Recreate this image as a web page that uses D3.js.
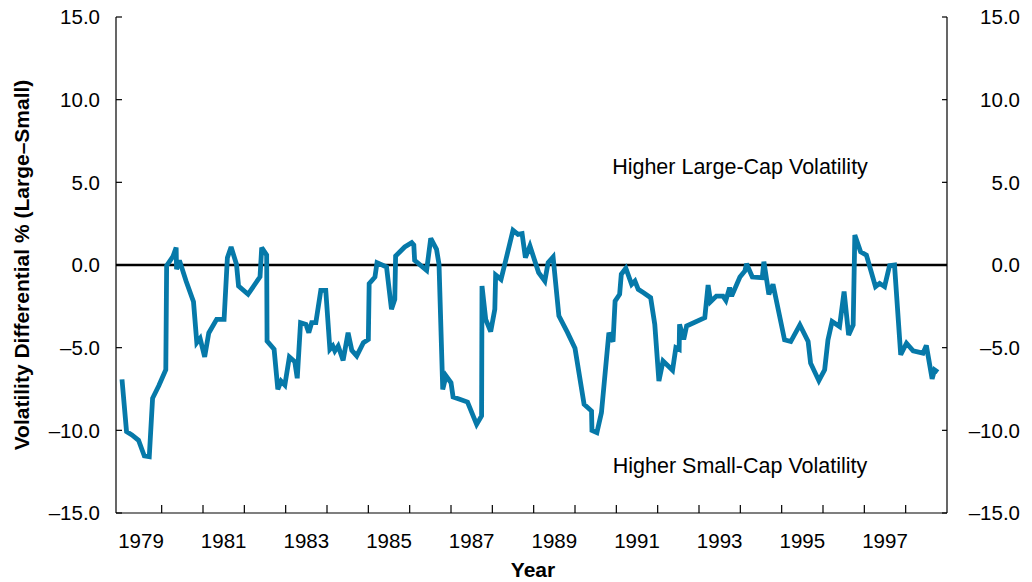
<!DOCTYPE html>
<html>
<head>
<meta charset="utf-8">
<script src="https://cdn.jsdelivr.net/npm/d3@7"></script>
<style>
  html, body { margin: 0; padding: 0; background: #fff; }
  svg { display: block; font-family: "Liberation Sans", Arial, Helvetica, sans-serif; }
</style>
</head>
<body>
<svg id="chart" width="1032" height="582"></svg>
<script>
// Decimal year of each observation
const years = [
  1979.04, 1979.15, 1979.28, 1979.44, 1979.58, 1979.70, 1979.78, 1979.93, 1980.10, 1980.12,
  1980.27, 1980.35, 1980.36, 1980.43, 1980.59, 1980.77, 1980.85, 1980.93, 1981.04, 1981.14,
  1981.33, 1981.51, 1981.59, 1981.68, 1981.81, 1981.86, 1982.09, 1982.38, 1982.42, 1982.54,
  1982.55, 1982.72, 1982.81, 1982.89, 1982.98, 1983.09, 1983.22, 1983.28, 1983.36, 1983.49,
  1983.56, 1983.63, 1983.73, 1983.85, 1983.97, 1984.07, 1984.14, 1984.19, 1984.27, 1984.39,
  1984.51, 1984.60, 1984.72, 1984.88, 1985.00, 1985.02, 1985.16, 1985.21, 1985.44, 1985.56,
  1985.64, 1985.66, 1985.88, 1986.05, 1986.10, 1986.12, 1986.41, 1986.51, 1986.65, 1986.71,
  1986.80, 1986.88, 1987.00, 1987.05, 1987.21, 1987.40, 1987.62, 1987.74, 1987.75, 1987.84,
  1987.96, 1988.06, 1988.08, 1988.21, 1988.32, 1988.50, 1988.62, 1988.72, 1988.80, 1988.91,
  1989.12, 1989.27, 1989.35, 1989.47, 1989.61, 1989.82, 1990.00, 1990.22, 1990.40, 1990.41,
  1990.53, 1990.64, 1990.82, 1990.92, 1990.97, 1991.08, 1991.12, 1991.23, 1991.37, 1991.45,
  1991.53, 1991.65, 1991.83, 1991.93, 1992.03, 1992.13, 1992.36, 1992.44, 1992.52, 1992.53,
  1992.63, 1992.70, 1993.14, 1993.22, 1993.28, 1993.42, 1993.58, 1993.65, 1993.74, 1993.79,
  1993.99, 1994.11, 1994.15, 1994.29, 1994.53, 1994.57, 1994.69, 1994.79, 1995.07, 1995.22,
  1995.44, 1995.64, 1995.70, 1995.90, 1996.04, 1996.12, 1996.22, 1996.40, 1996.51, 1996.62,
  1996.73, 1996.77, 1996.91, 1997.05, 1997.27, 1997.37, 1997.49, 1997.61, 1997.73, 1997.88,
  1998.02, 1998.18, 1998.42, 1998.50, 1998.64, 1998.70, 1998.78
];
// Volatility differential, % (large minus small)
const differential = [
  -6.92, -10.08, -10.28, -10.60, -11.55, -11.60, -8.06, -7.30, -6.33, -0.04,
  0.50, 1.05, -0.26, 0.28, -0.97, -2.22, -4.70, -4.44, -5.56, -4.11,
  -3.29, -3.29, 0.44, 1.09, 0.04, -1.27, -1.77, -0.71, 1.05, 0.60,
  -4.60, -5.10, -7.52, -7.02, -7.26, -5.56, -5.85, -6.85, -3.49, -3.59,
  -4.09, -3.49, -3.49, -1.53, -1.53, -5.10, -4.90, -5.20, -4.90, -5.77,
  -4.09, -5.16, -5.50, -4.70, -4.50, -1.13, -0.73, 0.14, -0.12, -2.68,
  -2.08, 0.54, 1.09, 1.35, 1.21, 0.28, -0.32, 1.61, 0.95, 0.04,
  -7.52, -6.71, -7.12, -7.98, -8.12, -8.29, -9.64, -9.13, -1.27, -3.29,
  -4.03, -2.68, -0.60, -0.87, 0.24, 2.10, 1.85, 1.90, 0.44, 1.15,
  -0.46, -0.97, 0.14, 0.48, -3.08, -4.09, -5.04, -8.43, -8.83, -10.00,
  -10.14, -8.93, -4.09, -4.64, -2.18, -1.77, -0.56, -0.20, -1.17, -0.97,
  -1.47, -1.67, -1.98, -3.59, -7.02, -5.81, -6.37, -5.00, -5.10, -3.59,
  -4.50, -3.69, -3.19, -1.21, -2.22, -1.88, -1.88, -2.14, -1.37, -1.88,
  -0.73, -0.36, 0.08, -0.73, -0.77, 0.20, -1.77, -1.17, -4.53, -4.63,
  -3.62, -4.63, -5.94, -7.00, -6.34, -4.53, -3.42, -3.72, -1.61, -4.23,
  -3.62, 1.81, 0.80, 0.60, -1.31, -1.11, -1.31, -0.04, 0.00, -5.43,
  -4.73, -5.19, -5.33, -4.87, -6.88, -6.34, -6.48
];
const yTicks = [-15, -10, -5, 0, 5, 10, 15];
const xTickYears = d3.range(1980, 1999);          // year boundaries (tick marks)
const xLabelYears = [1979, 1981, 1983, 1985, 1987, 1989, 1991, 1993, 1995, 1997];
const yTitle = "Volatility Differential % (Large\u2013Small)";
const xTitle = "Year";
const noteTop = "Higher Large-Cap Volatility";
const noteBottom = "Higher Small-Cap Volatility";

(function () {
const data = years.map((t, i) => ({ t: t, v: differential[i] }));

const svg = d3.select("#chart");
const pL = 116, pR = 947, pT = 17, pB = 513;

const x = d3.scaleLinear().domain([1978.895, 1999]).range([pL, pR]);
const y = d3.scaleLinear().domain([-15, 15]).range([pB, pT]);

const fmt = v => (v < 0 ? "\u2013" : "") + Math.abs(v).toFixed(1);
const fontSize = 20.5;
const noteSize = 21.5;
const titleSize = 21;

// Left axis
const gL = svg.append("g").attr("transform", `translate(${pL},0)`);
gL.append("line").attr("x1", 0).attr("x2", 0).attr("y1", pT).attr("y2", pB)
  .attr("stroke", "#000").attr("stroke-width", 1.2);
gL.selectAll("line.t").data(yTicks).enter().append("line").attr("class", "t")
  .attr("x1", 0).attr("x2", 6).attr("y1", d => y(d)).attr("y2", d => y(d))
  .attr("stroke", "#000").attr("stroke-width", 1.2);
gL.selectAll("text").data(yTicks).enter().append("text")
  .attr("x", -16).attr("y", d => y(d)).attr("dy", "0.36em")
  .attr("text-anchor", "end").attr("font-size", fontSize).attr("fill", "#000")
  .text(fmt);

// Right axis
const gR = svg.append("g").attr("transform", `translate(${pR},0)`);
gR.append("line").attr("x1", 0).attr("x2", 0).attr("y1", pT).attr("y2", pB)
  .attr("stroke", "#000").attr("stroke-width", 1.2);
gR.selectAll("line.t").data(yTicks).enter().append("line").attr("class", "t")
  .attr("x1", 0).attr("x2", -5).attr("y1", d => y(d)).attr("y2", d => y(d))
  .attr("stroke", "#000").attr("stroke-width", 1.2);
gR.selectAll("text").data(yTicks).enter().append("text")
  .attr("x", 73).attr("y", d => y(d)).attr("dy", "0.36em")
  .attr("text-anchor", "end").attr("font-size", fontSize).attr("fill", "#000")
  .text(fmt);

// Bottom axis
const gB = svg.append("g").attr("transform", `translate(0,${pB})`);
gB.append("line").attr("x1", pL).attr("x2", pR).attr("y1", 0).attr("y2", 0)
  .attr("stroke", "#000").attr("stroke-width", 1.2);
gB.selectAll("line.t").data(xTickYears).enter().append("line").attr("class", "t")
  .attr("x1", d => x(d)).attr("x2", d => x(d)).attr("y1", 0).attr("y2", -8)
  .attr("stroke", "#000").attr("stroke-width", 1.2);
gB.selectAll("text").data(xLabelYears).enter().append("text")
  .attr("x", d => x(d + 0.5)).attr("y", 35)
  .attr("text-anchor", "middle").attr("font-size", fontSize).attr("fill", "#000")
  .text(d => d);

// Zero line
svg.append("line").attr("x1", pL).attr("x2", pR).attr("y1", y(0)).attr("y2", y(0))
  .attr("stroke", "#000").attr("stroke-width", 2.5);

// Data line
const line = d3.line().x(d => x(d.t)).y(d => y(d.v));
svg.append("path").datum(data).attr("d", line)
  .attr("fill", "none").attr("stroke", "#0679a9").attr("stroke-width", 4.8)
  .attr("stroke-linejoin", "miter").attr("stroke-miterlimit", 3);

// Annotations
svg.append("text").attr("x", 740).attr("y", 174).attr("text-anchor", "middle")
  .attr("font-size", noteSize).attr("fill", "#000").text(noteTop);
svg.append("text").attr("x", 740).attr("y", 473).attr("text-anchor", "middle")
  .attr("font-size", noteSize).attr("fill", "#000").text(noteBottom);

// Titles
svg.append("text").attr("x", 533).attr("y", 577).attr("text-anchor", "middle")
  .attr("font-size", titleSize).attr("font-weight", "bold").attr("fill", "#000").text(xTitle);
svg.append("text").attr("transform", `translate(29,${y(0)}) rotate(-90)`)
  .attr("text-anchor", "middle").attr("font-size", titleSize).attr("font-weight", "bold")
  .attr("fill", "#000").text(yTitle);
})();
</script>
</body>
</html>
